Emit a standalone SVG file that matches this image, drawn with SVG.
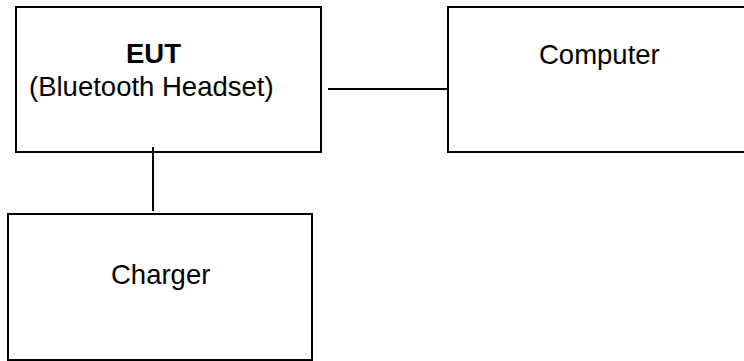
<svg xmlns="http://www.w3.org/2000/svg" width="744" height="361" viewBox="0 0 744 361">
<style>
.box{fill:#fff;stroke:#000;stroke-width:2}
.t{font-family:"Liberation Sans",Arial,sans-serif;font-size:27.5px;fill:#000}
.b{font-weight:bold}
.c{stroke:#000;stroke-width:2;fill:none}
</style>
<rect width="744" height="361" fill="#fff"/>
<g id="eut">
<rect class="box" x="16" y="7" width="305" height="145"/>
<text class="t b" x="126" y="63">EUT</text>
<text class="t" x="29" y="96">(Bluetooth Headset)</text>
</g>
<g id="computer">
<rect class="box" x="448" y="7" width="310" height="145"/>
<text class="t" x="539" y="64">Computer</text>
</g>
<g id="charger">
<rect class="box" x="8" y="214" width="304" height="146"/>
<text class="t" x="111" y="284">Charger</text>
</g>
<g id="connectors">
<line class="c" x1="153" y1="147" x2="153" y2="211"/>
<line class="c" x1="328" y1="89" x2="448" y2="89"/>
</g>
</svg>
